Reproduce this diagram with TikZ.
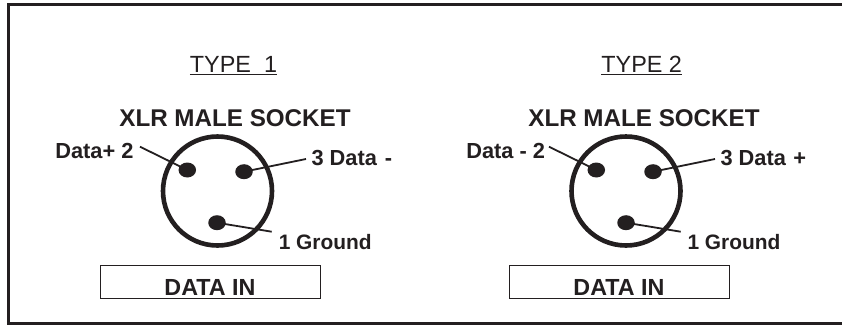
\documentclass[tikz,border=0pt]{standalone}
\usepackage{fontspec}
\setmainfont{Liberation Sans}
\definecolor{ink}{HTML}{231F20}
\usetikzlibrary{shapes.geometric}
\tikzset{
  x=1pt,y=-1pt,
  every node/.style={text=ink,inner sep=0pt,outer sep=0pt},
  frameline/.style={draw=ink,line width=3pt},
  socket/.style={draw=ink,line width=4.6pt,circle,minimum size=109pt},
  pin/.style={fill=ink,ellipse,minimum width=17.5pt,minimum height=15pt},
  lead/.style={draw=ink,line width=1.8pt},
  boxed/.style={draw=ink,line width=1pt,minimum width=219.5pt,minimum height=33pt},
  boxtext/.style={font=\bfseries\fontsize{23.3}{24}\selectfont,anchor=base},
  heading/.style={font=\bfseries\fontsize{24.2}{26}\selectfont,anchor=base},
  typetext/.style={font=\fontsize{23.4}{26}\selectfont,anchor=base},
  pinlabel/.style={font=\bfseries\fontsize{21.8}{24}\selectfont,anchor=base west},
  pinlabelr/.style={font=\bfseries\fontsize{21.8}{24}\selectfont,anchor=base east},
  groundlabel/.style={font=\bfseries\fontsize{20.9}{24}\selectfont,anchor=base west},
}
\begin{document}
\begin{tikzpicture}
\useasboundingbox (0,0) rectangle (842,325);
\fill[white] (0,0) rectangle (842,325);
\draw[frameline] (845,4.7) -- (8.2,4.7) -- (8.2,323.3) -- (845,323.3);

% Type 1
\node[typetext] (t1) at (233.5,72.5) {\underline{TYPE\ \ 1}};
\node[heading] (h1) at (235,126) {XLR MALE SOCKET};
\node[socket] (c1) at (217.5,191) {};
\node[pin] (p12) at (187.3,170) {};
\node[pin] (p13) at (244,171.7) {};
\node[pin] (p11) at (217,222.7) {};
\coordinate (e12) at (140,146.7);
\coordinate (e13) at (306,159);
\coordinate (e11) at (271.7,231.7);
\draw[lead] (e12) -- (p12.center);
\draw[lead] (e13) -- (p13.center);
\draw[lead] (e11) -- (p11.center);
\node[pinlabelr] (l12) at (133.5,158) {Data+ 2};
\node[pinlabel] (l13) at (311.5,165.7) {3 Data\kern2pt\ -};
\node[groundlabel] (l11) at (278.8,249) {1 Ground};
\node[boxed] (b1) at (210.3,281.8) {};
\node[boxtext] (d1) at (210,295) {DATA IN};

% Type 2
\node[typetext] (t2) at (641.7,72.5) {\underline{TYPE 2}};
\node[heading] (h2) at (644,126) {XLR MALE SOCKET};
\node[socket] (c2) at (626,191) {};
\node[pin] (p22) at (596.3,170) {};
\node[pin] (p23) at (653,171.7) {};
\node[pin] (p21) at (626,222.7) {};
\coordinate (e22) at (549,146.7);
\coordinate (e23) at (715,159);
\coordinate (e21) at (680.7,231.7);
\draw[lead] (e22) -- (p22.center);
\draw[lead] (e23) -- (p23.center);
\draw[lead] (e21) -- (p21.center);
\node[pinlabelr] (l22) at (545,158) {Data - 2};
\node[pinlabel] (l23) at (720.5,165.7) {3 Data\kern1.5pt\ +};
\node[groundlabel] (l21) at (687.5,249) {1 Ground};
\node[boxed] (b2) at (619.3,281.8) {};
\node[boxtext] (d2) at (619,295) {DATA IN};
\end{tikzpicture}
\end{document}
